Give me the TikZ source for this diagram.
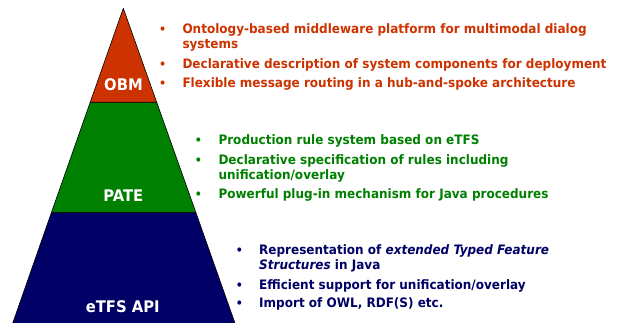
\documentclass[tikz,border=0pt]{standalone}
\usepackage{fontspec}
\setmainfont{DejaVu Sans}
\newfontfamily\itemfont[FakeStretch=0.925,
  UprightFont=* Bold,ItalicFont=* Bold Oblique,
  BoldFont=* Bold,BoldItalicFont=* Bold Oblique]{DejaVu Sans}
\definecolor{obmred}{RGB}{204,51,0}
\definecolor{pategreen}{RGB}{0,128,0}
\definecolor{etfsblue}{RGB}{0,0,102}
\begin{document}
\begin{tikzpicture}[x=1pt,y=-1pt,
  band/.style={draw=black,line width=0.6pt,line join=round},
  layername/.style={anchor=base,inner sep=0pt,text=white,
    font=\itemfont\fontsize{16}{19}\selectfont},
  entry/.style={anchor=base west,inner sep=0pt,
    font=\itemfont\fontsize{13}{15.5}\selectfont},
  dot/.style={anchor=base,inner sep=0pt,font=\itemfont\fontsize{12}{13}\selectfont}]
\useasboundingbox (0,0) rectangle (617,323);
\fill[white] (0,0) rectangle (617,323);

% pyramid corners
\coordinate (apex) at (123.3,8.3);
\coordinate (l1) at (90.2,102.3);  \coordinate (r1) at (156.7,102.3);
\coordinate (l2) at (51.5,212.3);  \coordinate (r2) at (195.8,212.3);
\coordinate (l3) at (12.6,323.5);  \coordinate (r3) at (235.1,323.5);

% three layers
\path[band,fill=etfsblue] (l2) -- (r2) -- (r3) -- (l3) -- cycle;
\path[band,fill=pategreen] (l1) -- (r1) -- (r2) -- (l2) -- cycle;
\path[band,fill=obmred] (apex) -- (r1) -- (l1) -- cycle;

\node[layername] (obm) at (123.5,91) {OBM};
\node[layername] (pate) at (123.3,201.7) {PATE};
\node[layername] (etfs) at (122.7,312.3) {eTFS API};

% OBM features
\begin{scope}[every node/.append style={text=obmred}]
  \node[dot] (ob1) at (162.7,33.3) {•};
  \node[entry] (ot1) at (182.3,33.3) {Ontology-based middleware platform for multimodal dialog};
  \node[entry] (ot1b) at (182.3,49) {systems};
  \node[dot] (ob2) at (162.7,69) {•};
  \node[entry] (ot2) at (182.3,69) {Declarative description of system components for deployment};
  \node[dot] (ob3) at (162.7,87.7) {•};
  \node[entry] (ot3) at (182.3,87.7) {Flexible message routing in a hub-and-spoke architecture};
\end{scope}

% PATE features
\begin{scope}[every node/.append style={text=pategreen}]
  \node[dot] (pb1) at (198.3,144) {•};
  \node[entry] (pt1) at (218.3,144) {Production rule system based on eTFS};
  \node[dot] (pb2) at (198.3,164) {•};
  \node[entry] (pt2) at (218.3,164) {Declarative specification of rules including};
  \node[entry] (pt2b) at (218.3,179) {unification/overlay};
  \node[dot] (pb3) at (198.3,198.3) {•};
  \node[entry] (pt3) at (218.3,198.3) {Powerful plug-in mechanism for Java procedures};
\end{scope}

% eTFS API features
\begin{scope}[every node/.append style={text=etfsblue}]
  \node[dot] (eb1) at (239.3,254) {•};
  \node[entry] (et1) at (259,254) {Representation of \textit{extended Typed Feature}};
  \node[entry] (et1b) at (259,269.3) {\textit{Structures} in Java};
  \node[dot] (eb2) at (239.3,289.3) {•};
  \node[entry] (et2) at (259,289.3) {Efficient support for unification/overlay};
  \node[dot] (eb3) at (239.3,307.7) {•};
  \node[entry] (et3) at (259,307.7) {Import of OWL, RDF(S) etc.};
\end{scope}
\end{tikzpicture}
\end{document}
